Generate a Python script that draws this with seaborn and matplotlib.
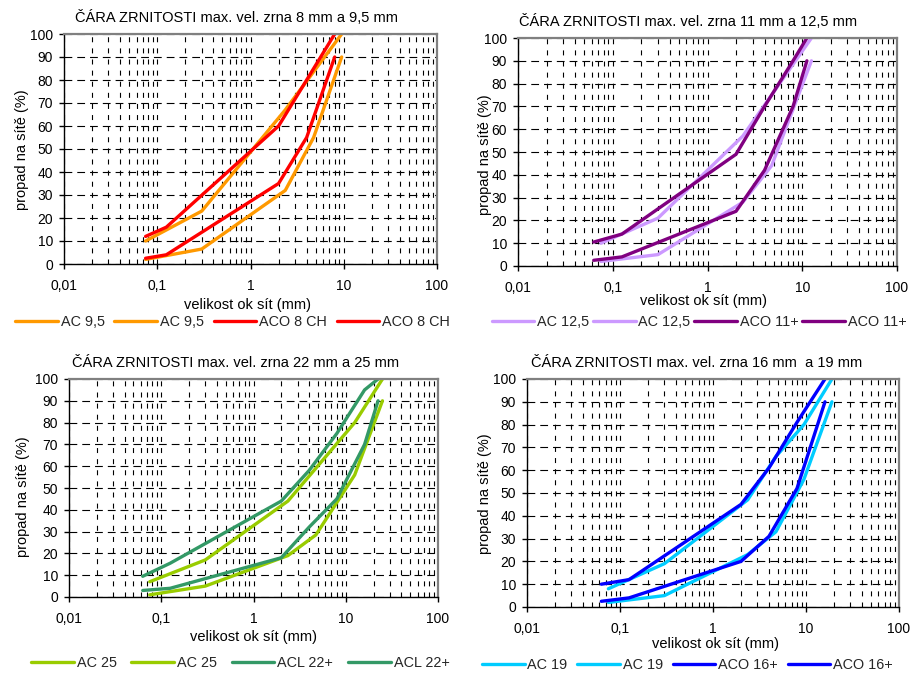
import numpy as np
import pandas as pd
import matplotlib
matplotlib.use('Agg')
import matplotlib.pyplot as plt
import seaborn as sns
from matplotlib.ticker import FixedLocator, LogLocator, NullFormatter, FixedFormatter

sns.set_theme(style='white')
plt.rcParams['font.family'] = ['Liberation Sans', 'DejaVu Sans']

# ---------------- data ----------------
x_ticks = [0.01, 0.1, 1, 10, 100]
x_tick_labels = ['0,01', '0,1', '1', '10', '100']
y_ticks = [0, 10, 20, 30, 40, 50, 60, 70, 80, 90, 100]
x_label = 'velikost ok sít (mm)'
y_label = 'propad na sítě (%)'

# panel 1
p1_title = 'ČÁRA ZRNITOSTI max. vel. zrna 8 mm a 9,5 mm'
p1_labels = ['AC 9,5', 'AC 9,5', 'ACO 8 CH', 'ACO 8 CH']
p1_colors = ['#FF9900', '#FF9900', '#FF0000', '#FF0000']
p1_a_x = [0.075, 0.3, 2.36, 9.5]
p1_a_y = [10, 23, 67, 100]
p1_b_x = [0.075, 0.3, 2.36, 4.75, 9.5]
p1_b_y = [2, 6.5, 32, 55, 90]
p1_c_x = [0.075, 0.125, 2, 4, 8]
p1_c_y = [12, 16, 60, 80, 100]
p1_d_x = [0.075, 0.125, 2, 4, 8]
p1_d_y = [2.5, 4, 35, 55, 90]

# panel 2
p2_title = 'ČÁRA ZRNITOSTI max. vel. zrna 11 mm a 12,5 mm'
p2_labels = ['AC 12,5', 'AC 12,5', 'ACO 11+', 'ACO 11+']
p2_colors = ['#CC99FF', '#CC99FF', '#800080', '#800080']
p2_a_x = [0.075, 0.3, 2.36, 4.75, 12.5]
p2_a_y = [10, 21, 57, 75, 100]
p2_b_x = [0.075, 0.3, 2.36, 4.75, 12.5]
p2_b_y = [2, 5, 28, 44, 90]
p2_c_x = [0.063, 0.125, 2, 4, 8, 11.2]
p2_c_y = [10.5, 14, 49, 70, 90, 100]
p2_d_x = [0.063, 0.125, 2, 4, 8, 11.2]
p2_d_y = [2.5, 4, 24, 42, 70, 90]

# panel 3
p3_title = 'ČÁRA ZRNITOSTI max. vel. zrna 22 mm a 25 mm'
p3_labels = ['AC 25', 'AC 25', 'ACL 22+', 'ACL 22+']
p3_colors = ['#99CC00', '#99CC00', '#339966', '#339966']
p3_a_x = [0.075, 0.3, 2.36, 12.5, 25]
p3_a_y = [7, 17, 44, 80, 100]
p3_b_x = [0.075, 0.3, 2.36, 4.75, 12.5, 25]
p3_b_y = [1, 5, 19, 28.5, 56, 90]
p3_c_x = [0.063, 0.125, 2, 4, 8, 16, 22.4]
p3_c_y = [9.5, 15.5, 44, 58, 75, 95, 100]
p3_d_x = [0.063, 0.125, 2, 4, 8, 16, 22.4]
p3_d_y = [3, 4, 18, 32, 45, 70, 90]

# panel 4
p4_title = 'ČÁRA ZRNITOSTI max. vel. zrna 16 mm  a 19 mm'
p4_labels = ['AC 19', 'AC 19', 'ACO 16+', 'ACO 16+']
p4_colors = ['#00CCFF', '#00CCFF', '#0000FF', '#0000FF']
p4_a_x = [0.075, 0.3, 2.36, 4.75, 9.5, 19]
p4_a_y = [8, 19, 47, 66, 80, 100]
p4_b_x = [0.075, 0.3, 2.36, 4.75, 9.5, 19]
p4_b_y = [2, 5, 23, 33, 56, 90]
p4_c_x = [0.063, 0.125, 2, 4, 8, 16]
p4_c_y = [10, 12, 45, 61, 81, 100]
p4_d_x = [0.063, 0.125, 2, 4, 8, 16]
p4_d_y = [2.5, 4, 20, 31, 52, 90]

# ---------------- layout ----------------
W, H = 921, 677
fig = plt.figure(figsize=(W / 100, H / 100), dpi=100)
fig.patch.set_facecolor('white')


def rect(l, r, t, b):
    return [l / W, 1 - b / H, (r - l) / W, (b - t) / H]


def fx(x):
    return x / W


def fy(y):
    return 1 - y / H


panels = [
    dict(rect=rect(64, 437, 34, 264), title=p1_title, labels=p1_labels, colors=p1_colors,
         series=[(p1_a_x, p1_a_y), (p1_b_x, p1_b_y), (p1_c_x, p1_c_y), (p1_d_x, p1_d_y)],
         tpos=(236, 18), ypos=(22, 150), xpos=(247, 305), lpos=(232.5, 322), cs=0.68),
    dict(rect=rect(518, 897, 38, 266), title=p2_title, labels=p2_labels, colors=p2_colors,
         series=[(p2_a_x, p2_a_y), (p2_b_x, p2_b_y), (p2_c_x, p2_c_y), (p2_d_x, p2_d_y)],
         tpos=(688, 22), ypos=(485, 155), xpos=(703, 301), lpos=(699, 322), cs=0.25),
    dict(rect=rect(69, 438, 379, 597), title=p3_title, labels=p3_labels, colors=p3_colors,
         series=[(p3_a_x, p3_a_y), (p3_b_x, p3_b_y), (p3_c_x, p3_c_y), (p3_d_x, p3_d_y)],
         tpos=(236, 363), ypos=(23, 497), xpos=(253, 637), lpos=(240.3, 663), cs=1.03),
    dict(rect=rect(527, 899, 379, 607), title=p4_title, labels=p4_labels, colors=p4_colors,
         series=[(p4_a_x, p4_a_y), (p4_b_x, p4_b_y), (p4_c_x, p4_c_y), (p4_d_x, p4_d_y)],
         tpos=(697, 363), ypos=(485, 494), xpos=(715, 644), lpos=(687.5, 665), cs=0.68),
]

for p in panels:
    ax = fig.add_axes(p['rect'])
    ax.set_facecolor('white')
    handles = []
    for (xs, ys), lab, col in zip(p['series'], p['labels'], p['colors']):
        df = pd.DataFrame({'x': xs, 'y': ys})
        sns.lineplot(data=df, x='x', y='y', ax=ax, color=col, linewidth=2.4,
                     sort=False, estimator=None, legend=False)
        handles.append(ax.get_lines()[-1])
    ax.set_xscale('log')
    ax.set_xlim(0.01, 100)
    ax.set_ylim(0, 100)
    ax.xaxis.set_major_locator(FixedLocator(x_ticks))
    ax.xaxis.set_major_formatter(FixedFormatter(x_tick_labels))
    ax.xaxis.set_minor_locator(LogLocator(base=10, subs=[2, 3, 4, 5, 6, 7, 8, 9], numticks=20))
    ax.xaxis.set_minor_formatter(NullFormatter())
    ax.yaxis.set_major_locator(FixedLocator(y_ticks))
    ax.set_xlabel('')
    ax.set_ylabel('')
    ax.grid(False)
    ax.grid(True, which='major', axis='y', color='black', linewidth=0.8,
            linestyle=(0, (7, 4.5)), zorder=0)
    ax.grid(True, which='both', axis='x', color='black', linewidth=0.8,
            linestyle=(0, (4.5, 5.5)), zorder=0)
    ax.set_axisbelow(True)
    for s in ['top', 'right']:
        ax.spines[s].set_color('#808080')
        ax.spines[s].set_linewidth(1.6)
    for s in ['left', 'bottom']:
        ax.spines[s].set_color('black')
        ax.spines[s].set_linewidth(1.0)
    ax.tick_params(axis='both', which='major', direction='out', length=3.3, width=1,
                   color='black', labelsize=10, labelcolor='black')
    ax.tick_params(axis='x', which='major', pad=7.5)
    ax.tick_params(axis='y', which='major', pad=4.5, left=True)
    ax.tick_params(axis='x', which='minor', length=0, bottom=False)
    ax.tick_params(axis='x', bottom=True)

    fig.text(fx(p['tpos'][0]), fy(p['tpos'][1]), p['title'], ha='center', va='center',
             fontsize=10.5, color='black')
    fig.text(fx(p['ypos'][0]), fy(p['ypos'][1]), y_label, ha='center', va='center',
             rotation=90, fontsize=10.5, color='black')
    fig.text(fx(p['xpos'][0]), fy(p['xpos'][1]), x_label, ha='center', va='center',
             fontsize=10.5, color='black')
    fig.legend(handles, p['labels'], loc='center',
               bbox_to_anchor=(fx(p['lpos'][0]), fy(p['lpos'][1])),
               ncol=4, frameon=False, fontsize=10.4, handlelength=2.95,
               handletextpad=0.2, columnspacing=p['cs'], borderpad=0, borderaxespad=0)

fig.savefig('out.png', dpi=100, facecolor='white')
